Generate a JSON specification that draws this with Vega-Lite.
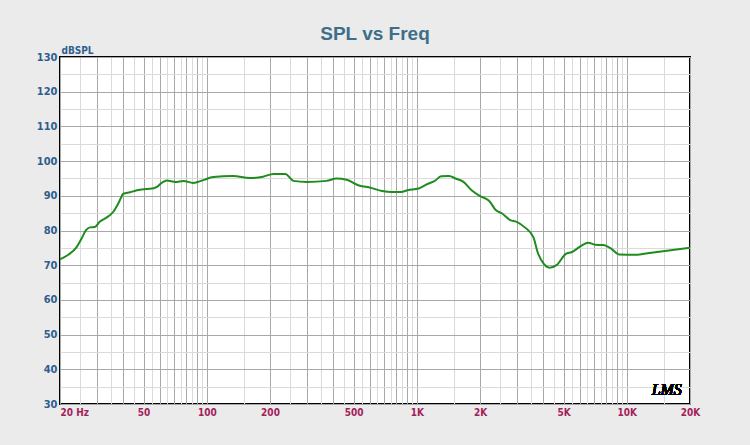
{
  "$schema": "https://vega.github.io/schema/vega-lite/v6.json",
  "width": 630,
  "height": 347,
  "autosize": {"type": "none"},
  "padding": {"left": 60, "top": 57, "right": 60, "bottom": 41},
  "background": "#EBEBEB",
  "title": {
    "text": "SPL vs Freq",
    "font": "'Liberation Sans Narrow', 'Liberation Sans', sans-serif",
    "fontSize": 19,
    "fontWeight": "bold",
    "color": "#3D6F8A",
    "anchor": "middle",
    "frame": "group",
    "baseline": "alphabetic",
    "offset": -14
  },
  "config": {
    "view": {"stroke": "#000000", "strokeWidth": 2, "fill": "#FFFFFF"},
    "axis": {
      "labelFont": "'Liberation Sans Narrow', 'DejaVu Sans Condensed', 'Liberation Sans', sans-serif",
      "labelFontWeight": "bold",
      "labelFontSize": 11,
      "domain": false,
      "ticks": false,
      "gridWidth": 1,
      "labelOverlap": false,
      "tickCount": 200
    }
  },
  "data": {
    "values": [
      {"f": 20, "spl": 71.7},
      {"f": 21.9, "spl": 73.0},
      {"f": 24.0, "spl": 75.2},
      {"f": 25.3, "spl": 77.6},
      {"f": 26.6, "spl": 80.1},
      {"f": 27.8, "spl": 80.9},
      {"f": 29.3, "spl": 81.0},
      {"f": 30.9, "spl": 82.5},
      {"f": 33.3, "spl": 83.7},
      {"f": 35.9, "spl": 85.4},
      {"f": 38.0, "spl": 87.9},
      {"f": 40.1, "spl": 90.6},
      {"f": 43.1, "spl": 91.0},
      {"f": 46.5, "spl": 91.6},
      {"f": 50.0, "spl": 91.9},
      {"f": 53.7, "spl": 92.0},
      {"f": 57.9, "spl": 92.6},
      {"f": 61.2, "spl": 93.8},
      {"f": 64.6, "spl": 94.4},
      {"f": 70.9, "spl": 94.0},
      {"f": 77.4, "spl": 94.3},
      {"f": 86.0, "spl": 93.7},
      {"f": 96.9, "spl": 94.6},
      {"f": 107.2, "spl": 95.4},
      {"f": 133.4, "spl": 95.7},
      {"f": 160.3, "spl": 95.1},
      {"f": 185.4, "spl": 95.5},
      {"f": 207.8, "spl": 96.3},
      {"f": 236.7, "spl": 96.3},
      {"f": 258.7, "spl": 94.3},
      {"f": 299.4, "spl": 94.0},
      {"f": 371.3, "spl": 94.3},
      {"f": 414.7, "spl": 95.0},
      {"f": 463.6, "spl": 94.6},
      {"f": 534.9, "spl": 92.9},
      {"f": 595.6, "spl": 92.4},
      {"f": 684, "spl": 91.4},
      {"f": 759, "spl": 91.1},
      {"f": 842, "spl": 91.1},
      {"f": 903, "spl": 91.6},
      {"f": 1021, "spl": 92.1},
      {"f": 1114, "spl": 93.3},
      {"f": 1218, "spl": 94.3},
      {"f": 1306, "spl": 95.6},
      {"f": 1425, "spl": 95.7},
      {"f": 1528, "spl": 95.0},
      {"f": 1668, "spl": 94.0},
      {"f": 1824, "spl": 91.6},
      {"f": 1992, "spl": 90.0},
      {"f": 2214, "spl": 88.5},
      {"f": 2376, "spl": 85.9},
      {"f": 2548, "spl": 84.9},
      {"f": 2785, "spl": 83.0},
      {"f": 2988, "spl": 82.5},
      {"f": 3270, "spl": 80.9},
      {"f": 3595, "spl": 78.0},
      {"f": 3760, "spl": 73.8},
      {"f": 4035, "spl": 70.3},
      {"f": 4284, "spl": 69.3},
      {"f": 4650, "spl": 70.1},
      {"f": 5110, "spl": 73.2},
      {"f": 5480, "spl": 73.8},
      {"f": 6040, "spl": 75.5},
      {"f": 6550, "spl": 76.5},
      {"f": 7060, "spl": 75.9},
      {"f": 7710, "spl": 75.8},
      {"f": 8420, "spl": 74.8},
      {"f": 9200, "spl": 73.1},
      {"f": 10980, "spl": 73.0},
      {"f": 13110, "spl": 73.6},
      {"f": 20000, "spl": 75.0}
    ]
  },
  "layer": [
    {
      "mark": {"type": "line", "color": "#1E8C1E", "strokeWidth": 2, "interpolate": "monotone", "clip": true},
      "encoding": {
        "x": {
          "field": "f",
          "type": "quantitative",
          "scale": {"type": "log", "domain": [20, 20000], "nice": false},
          "axis": {
            "title": null,
            "tickCount": 200,
            "values": [20,25,30,35,40,45,50,55,60,65,70,75,80,85,90,95,100,150,200,250,300,350,400,450,500,550,600,650,700,750,800,850,900,950,1000,1500,2000,2500,3000,3500,4000,4500,5000,5500,6000,6500,7000,7500,8000,8500,9000,9500,10000,15000,20000],
            "labelExpr": "datum.value == 20 ? '20  Hz' : indexof([50,100,200,500], datum.value) >= 0 ? '' + datum.value : indexof([1000,2000,5000,10000,20000], datum.value) >= 0 ? (datum.value / 1000) + 'K' : ''",
            "labelColor": "#A3215A",
            "labelFontSize": 10,
            "labelPadding": 3,
            "labelAlign": {"condition": {"test": "datum.value == 20", "value": "left"}, "value": "center"},
            "gridColor": {"condition": {"test": "indexof([20,30,40,50,60,70,80,90,100,200,300,400,500,600,700,800,900,1000,2000,3000,4000,5000,6000,7000,8000,9000,10000,20000], datum.value) >= 0", "value": "#A8A8A8"}, "value": "#DADADA"}
          }
        },
        "y": {
          "field": "spl",
          "type": "quantitative",
          "scale": {"domain": [30, 130], "nice": false, "zero": false},
          "axis": {
            "title": "dBSPL",
            "tickCount": 200,
            "titleAngle": 0,
            "titleX": 1,
            "titleY": -4,
            "titleAlign": "left",
            "titleBaseline": "alphabetic",
            "titleFont": "'Liberation Sans Narrow', 'DejaVu Sans Condensed', 'Liberation Sans', sans-serif",
            "titleFontSize": 10,
            "titleFontWeight": "bold",
            "titleColor": "#2F5E8E",
            "values": [30,35,40,45,50,55,60,65,70,75,80,85,90,95,100,105,110,115,120,125,130],
            "labelExpr": "datum.value % 10 == 0 ? '' + datum.value : ''",
            "labelColor": "#2F5E8E",
            "labelPadding": 3,
            "gridColor": {"condition": {"test": "datum.value % 10 == 0", "value": "#A8A8A8"}, "value": "#DADADA"}
          }
        }
      }
    },
    {
      "mark": {"type": "text", "text": "LMS", "font": "'Liberation Serif', serif", "fontStyle": "italic", "fontSize": 16, "color": "#000000", "align": "center", "baseline": "middle"},
      "encoding": {
        "x": {"datum": 15500},
        "y": {"datum": 34}
      }
    }
  ]
}
